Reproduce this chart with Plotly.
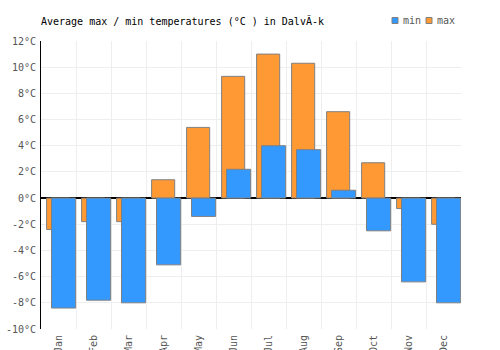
import plotly.graph_objects as go

months = ["Jan", "Feb", "Mar", "Apr", "May", "Jun", "Jul", "Aug", "Sep", "Oct", "Nov", "Dec"]
temp_min = [-8.4, -7.8, -8.0, -5.1, -1.4, 2.2, 4.0, 3.7, 0.6, -2.5, -6.4, -8.0]
temp_max = [-2.4, -1.8, -1.8, 1.4, 5.4, 9.3, 11.0, 10.3, 6.6, 2.7, -0.8, -2.0]
y_ticks = list(range(-10, 13, 2))
y_tick_labels = [f"{v}°C" for v in y_ticks]
series_names = ["min", "max"]

FONT = "DejaVu Sans Mono, monospace"
BLUE = "#3399ff"
ORANGE = "#ff9933"
EDGE = "#808080"

fig = go.Figure()
fig.add_trace(go.Bar(
    x=months, y=temp_max, name="max", showlegend=False,
    marker=dict(color=ORANGE, line=dict(color=EDGE, width=1)),
    width=0.66, offset=-0.34,
))
fig.add_trace(go.Bar(
    x=months, y=temp_min, name="min", showlegend=False,
    marker=dict(color=BLUE, line=dict(color=EDGE, width=1)),
    width=0.69, offset=-0.20,
))

W_PLOT, H_PLOT = 420, 288
L, T = 41, 41


def px_x(p):
    return (p - L) / W_PLOT


def px_y(p):
    return (T + H_PLOT - p) / H_PLOT


legend_items = [(series_names[0], BLUE, 392), (series_names[1], ORANGE, 426)]
for name, col, x0 in legend_items:
    fig.add_shape(type="rect", xref="paper", yref="paper",
                  x0=px_x(x0), x1=px_x(x0 + 6), y0=px_y(23.5), y1=px_y(17.5),
                  fillcolor=col, line=dict(color=EDGE, width=1))
    fig.add_annotation(text=name, xref="paper", yref="paper",
                       x=px_x(x0 + 9), y=px_y(20.5), xanchor="left", yanchor="middle",
                       showarrow=False,
                       font=dict(family=FONT, size=10, color="#555555"))

fig.update_layout(
    width=500, height=350,
    margin=dict(l=L, r=500 - L - W_PLOT, t=T, b=350 - T - H_PLOT),
    barmode="overlay",
    showlegend=False,
    paper_bgcolor="white", plot_bgcolor="white",
    font=dict(family=FONT, size=10, color="#555555"),
    title=dict(
        text="Average max / min temperatures (°C ) in DalvÃ-k",
        font=dict(family=FONT, size=10, color="#000000"),
        x=0, xref="paper", xanchor="left",
        y=1 - 21 / 350, yref="container", yanchor="middle",
    ),
    xaxis=dict(
        type="category", tickson="boundaries", automargin=False,
        showgrid=True, gridcolor="#eeeeee", gridwidth=1,
        tickangle=-90, ticks="", showline=False, ticklabelstandoff=3,
        tickfont=dict(family=FONT, size=10, color="#555555"),
    ),
    yaxis=dict(
        range=[-10, 12], tickvals=y_ticks, ticktext=y_tick_labels, automargin=False,
        showgrid=True, gridcolor="#eeeeee", gridwidth=1,
        showline=True, linecolor="#000000", linewidth=1,
        zeroline=True, zerolinecolor="#000000", zerolinewidth=1.5,
        ticks="", ticklabelstandoff=2,
        tickfont=dict(family=FONT, size=10, color="#555555"),
    ),
)

fig.write_html("out.html")
